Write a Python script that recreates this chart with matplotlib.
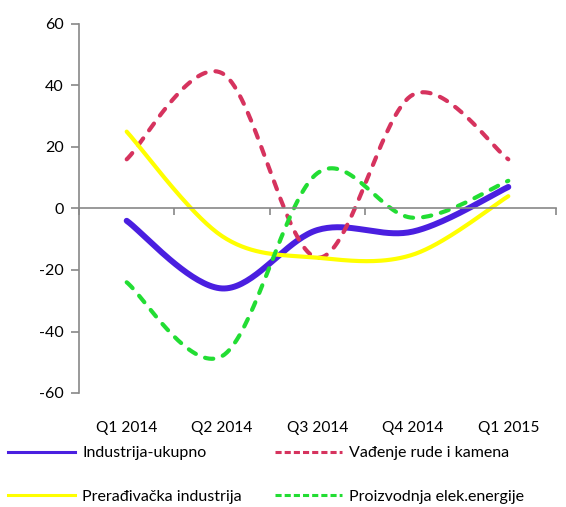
import matplotlib
matplotlib.use("Agg")
import matplotlib.pyplot as plt
import numpy as np
from matplotlib.lines import Line2D

quarters = ["Q1 2014", "Q2 2014", "Q3 2014", "Q4 2014", "Q1 2015"]
industrija_ukupno = [-4, -26, -7, -7.5, 7]
vadjenje_rude = [16, 44, -16, 37, 16]
preradjivacka = [25, -9, -16, -15, 4]
elek_energija = [-24, -48, 11.5, -3, 9]

series = [
    ("Industrija-ukupno", industrija_ukupno, "#4a1fe0", 4.3, "-"),
    ("Vađenje rude i kamena", vadjenje_rude, "#d6335e", 3.0, "--"),
    ("Prerađivačka industrija", preradjivacka, "#ffff00", 3.0, "-"),
    ("Proizvodnja elek.energije", elek_energija, "#22dd33", 3.0, "--"),
]


def smooth(x, y, n=40):
    # Excel-style smoothed line: Catmull-Rom as cubic Bezier segments
    p = np.column_stack([x, y]).astype(float)
    p = np.vstack([p[0], p, p[-1]])
    t = np.linspace(0, 1, n)[:, None]
    out = []
    for i in range(1, len(p) - 2):
        p0, p1, p2, p3 = p[i - 1], p[i], p[i + 1], p[i + 2]
        b1 = p1 + (p2 - p0) / 6
        b2 = p2 - (p3 - p1) / 6
        seg = ((1 - t) ** 3) * p1 + 3 * ((1 - t) ** 2) * t * b1 + 3 * (1 - t) * t ** 2 * b2 + t ** 3 * p2
        out.append(seg if i == 1 else seg[1:])
    out = np.vstack(out)
    return out[:, 0], out[:, 1]


plt.rcParams["font.family"] = ["Lato", "DejaVu Sans"]
plt.rcParams["axes.unicode_minus"] = False
fig = plt.figure(figsize=(5.66, 5.07), dpi=100)
ax = fig.add_axes([79 / 566, 1 - 393 / 507, (556 - 79) / 566, (393 - 24) / 507])

x = np.arange(len(quarters))
handles = {}
for label, vals, color, lw, ls in series:
    sx, sy = smooth(x, vals)
    if ls == "--":
        ax.plot(sx, sy, color=color, lw=lw, dashes=(2.0, 2.4), dash_capstyle="round")
        handles[label] = Line2D([], [], color=color, lw=2.2, dashes=(2.0, 1.0))
    else:
        ax.plot(sx, sy, color=color, lw=lw, solid_capstyle="round")
        handles[label] = Line2D([], [], color=color, lw=2.2)

ax.set_xlim(-0.5, len(quarters) - 0.5)
ax.set_ylim(-60, 60)
ax.set_yticks(np.arange(-60, 61, 20))

for side in ["top", "right"]:
    ax.spines[side].set_visible(False)
ax.spines["left"].set_color("#888888")
ax.spines["left"].set_linewidth(1.2)
ax.spines["bottom"].set_position(("data", 0))
ax.spines["bottom"].set_color("#888888")
ax.spines["bottom"].set_linewidth(1.2)

ax.set_xticks(np.arange(-0.5, len(quarters), 1.0))
ax.set_xticklabels([])
ax.tick_params(axis="x", direction="out", length=5, width=1.2, color="#888888")
ax.tick_params(axis="y", direction="out", length=6, width=1.2, color="#888888",
               labelsize=11.5, pad=5)

for i, q in enumerate(quarters):
    ax.text(i, -0.095, q, transform=ax.get_xaxis_transform(), ha="center", va="center",
            fontsize=11.2)

# legend is filled row by row in the reference
order = [series[0][0], series[2][0], series[1][0], series[3][0]]
fig.legend([handles[k] for k in order], order, ncol=2, loc="upper left",
           bbox_to_anchor=(8 / 566, 1 - 446 / 507), frameon=False, fontsize=11.5,
           handlelength=4.2, handletextpad=0.45, columnspacing=2.05, labelspacing=1.85,
           borderpad=0, borderaxespad=0)

fig.savefig("out.png", dpi=100)
